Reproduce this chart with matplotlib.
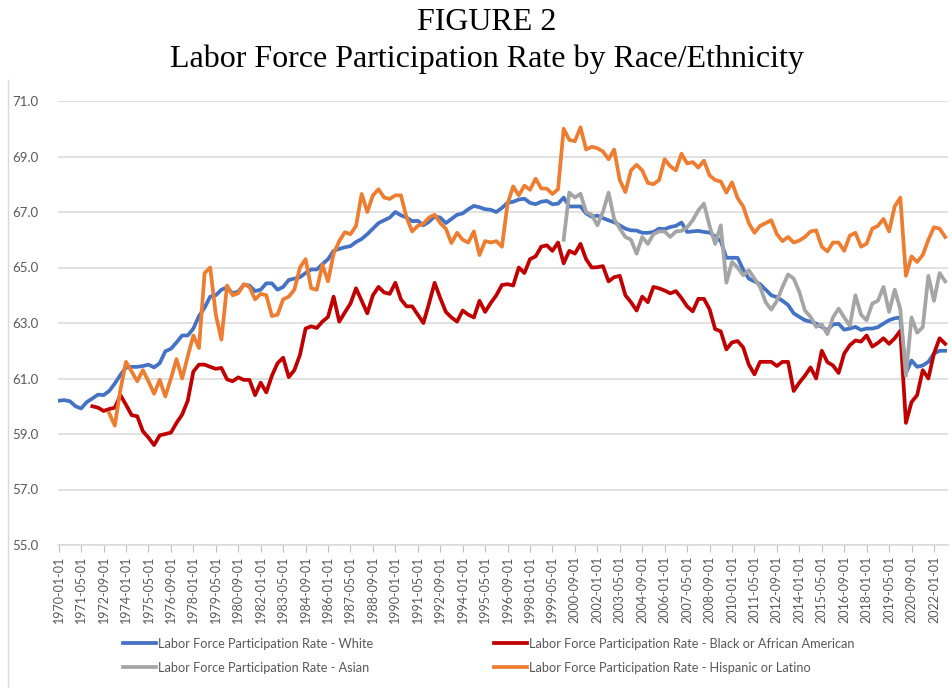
import matplotlib
matplotlib.use('Agg')
import matplotlib.pyplot as plt
from matplotlib.lines import Line2D
import numpy as np
import pandas as pd

# readings every 4 months, starting at each series' first month
step = 4

white_start = '1970-01'
white = [60.2, 60.22, 60.18, 60.0, 59.92, 60.15, 60.28, 60.42, 60.4, 60.55,
         60.82, 61.13, 61.4, 61.42, 61.42, 61.45, 61.5, 61.4, 61.55, 61.98,
         62.07, 62.3, 62.55, 62.55, 62.8, 63.25, 63.55, 63.95, 64.0, 64.2,
         64.28, 64.07, 64.13, 64.38, 64.35, 64.15, 64.2, 64.43, 64.43, 64.2,
         64.3, 64.55, 64.6, 64.65, 64.8, 64.93, 64.93, 65.12, 65.3, 65.6,
         65.67, 65.73, 65.77, 65.92, 66.03, 66.2, 66.4, 66.6, 66.7, 66.8,
         67.0, 66.88, 66.8, 66.67, 66.68, 66.52, 66.65, 66.84, 66.8, 66.6,
         66.75, 66.9, 66.95, 67.1, 67.22, 67.17, 67.1, 67.08, 67.0, 67.15,
         67.33, 67.37, 67.45, 67.48, 67.33, 67.28, 67.37, 67.4, 67.28, 67.3,
         67.52, 67.2, 67.2, 67.2, 66.95, 66.83, 66.87, 66.78, 66.7, 66.63,
         66.52, 66.4, 66.34, 66.33, 66.25, 66.25, 66.28, 66.4, 66.38, 66.46,
         66.5, 66.62, 66.28, 66.3, 66.32, 66.28, 66.26, 66.12, 65.95, 65.35,
         65.35, 65.35, 64.92, 64.6, 64.5, 64.4, 64.2, 64.0, 63.93, 63.8,
         63.65, 63.35, 63.22, 63.1, 63.05, 62.98, 62.86, 62.74, 62.95, 62.97,
         62.76, 62.8, 62.86, 62.75, 62.8, 62.8, 62.85, 62.98, 63.1, 63.17,
         63.2, 61.2, 61.65, 61.42, 61.47, 61.6, 61.9, 62.0, 62.0]

black_start = '1972-01'
black = [60.0, 59.95, 59.83, 59.9, 59.95, 60.4, 60.05, 59.68, 59.64, 59.1,
         58.87, 58.6, 58.95, 59.0, 59.05, 59.4, 59.7, 60.2, 61.25, 61.5,
         61.5, 61.42, 61.35, 61.38, 60.97, 60.9, 61.04, 60.95, 60.95, 60.4,
         60.85, 60.5, 61.1, 61.55, 61.75, 61.05, 61.3, 61.85, 62.8, 62.88,
         62.82, 63.05, 63.22, 63.95, 63.05, 63.38, 63.7, 64.25, 63.8, 63.35,
         64.0, 64.3, 64.1, 64.05, 64.45, 63.85, 63.6, 63.6, 63.3, 63.0,
         63.7, 64.45, 63.9, 63.4, 63.2, 63.05, 63.45, 63.3, 63.2, 63.8,
         63.4, 63.72, 64.0, 64.37, 64.4, 64.35, 65.0, 64.8, 65.3, 65.4,
         65.75, 65.8, 65.6, 65.9, 65.15, 65.6, 65.5, 65.85, 65.3, 65.0,
         65.01, 65.05, 64.5, 64.65, 64.7, 64.0, 63.75, 63.45, 63.95, 63.75,
         64.3, 64.25, 64.17, 64.07, 64.15, 63.9, 63.6, 63.42, 63.87, 63.87,
         63.5, 62.78, 62.7, 62.05, 62.3, 62.35, 62.12, 61.5, 61.15, 61.6,
         61.6, 61.6, 61.45, 61.6, 61.6, 60.55, 60.85, 61.1, 61.4, 61.0,
         62.0, 61.59, 61.47, 61.2, 61.9, 62.2, 62.37, 62.33, 62.55, 62.15,
         62.28, 62.45, 62.25, 62.45, 62.72, 59.4, 60.15, 60.4, 61.3, 61.0,
         61.9, 62.45, 62.25]

asian_start = '2000-01'
asian = [66.0, 67.7, 67.52, 67.66, 67.0, 66.9, 66.52, 67.0, 67.7, 66.75,
         66.4, 66.1, 66.0, 65.5, 66.1, 65.85, 66.2, 66.3, 66.3, 66.1,
         66.3, 66.32, 66.45, 66.7, 67.06, 67.3, 66.5, 65.85, 66.52, 64.45,
         65.2, 65.0, 64.72, 64.9, 64.6, 64.3, 63.75, 63.48, 63.8, 64.3,
         64.75, 64.6, 64.12, 63.45, 63.22, 62.86, 62.95, 62.6, 63.2, 63.52,
         63.2, 62.9, 64.0, 63.3, 63.1, 63.7, 63.8, 64.3, 63.4, 64.2,
         63.5, 61.1, 63.2, 62.65, 62.85, 64.7, 63.8, 64.8, 64.5]

hispanic_start = '1973-01'
hispanic = [59.75, 59.3, 60.6, 61.6, 61.25, 60.9, 61.3, 60.9, 60.45, 60.95,
            60.35, 61.0, 61.7, 61.0, 61.8, 62.55, 62.1, 64.8, 65.0, 63.3,
            62.4, 64.35, 64.0, 64.07, 64.4, 64.3, 63.85, 64.05, 64.0, 63.25,
            63.3, 63.85, 63.95, 64.2, 65.0, 65.3, 64.25, 64.2, 65.1, 64.5,
            65.5, 65.95, 66.27, 66.2, 66.5, 67.65, 67.0, 67.6, 67.82, 67.52,
            67.47, 67.6, 67.6, 66.8, 66.3, 66.5, 66.58, 66.8, 66.9, 66.6,
            66.4, 65.88, 66.25, 66.0, 65.9, 66.3, 65.45, 65.95, 65.9, 65.95,
            65.75, 67.3, 67.92, 67.6, 67.95, 67.8, 68.2, 67.85, 67.84, 67.65,
            67.82, 70.0, 69.6, 69.55, 70.05, 69.25, 69.35, 69.3, 69.18, 68.9,
            69.25, 68.15, 67.72, 68.5, 68.7, 68.5, 68.05, 68.0, 68.15, 68.9,
            68.65, 68.5, 69.1, 68.75, 68.8, 68.6, 68.85, 68.32, 68.15, 68.1,
            67.7, 68.07, 67.5, 67.2, 66.6, 66.25, 66.5, 66.6, 66.7, 66.2,
            65.95, 66.1, 65.9, 65.97, 66.1, 66.3, 66.34, 65.75, 65.58, 65.9,
            65.9, 65.6, 66.15, 66.25, 65.75, 65.86, 66.4, 66.5, 66.75, 66.3,
            67.2, 67.52, 64.7, 65.4, 65.2, 65.45, 66.0, 66.45, 66.4, 66.1]

labels = ['Labor Force Participation Rate - White',
          'Labor Force Participation Rate - Black or African American',
          'Labor Force Participation Rate - Asian',
          'Labor Force Participation Rate - Hispanic or Latino']
colors = ['#4472C4', '#C00000', '#A5A5A5', '#ED7D31']

tick_dates = pd.date_range('1970-01-01', '2022-01-01', freq='16MS')


def month_index(ym):
    d = pd.Timestamp(ym)
    return (d.year - 1970) * 12 + d.month - 1


def series_x(start, vals):
    return month_index(start) + step * np.arange(len(vals))


plt.rcParams['font.family'] = ['Lato', 'DejaVu Sans']

fig = plt.figure(figsize=(9.52, 6.88), dpi=100)
ax = fig.add_axes([58 / 952, 1 - 545 / 688, 890 / 952, 444 / 688])

series = [(white_start, white), (black_start, black),
          (asian_start, asian), (hispanic_start, hispanic)]
handles = []
for (start, vals), lab, c in zip(series, labels, colors):
    h, = ax.plot(series_x(start, vals), vals, color=c, lw=2.7,
                 solid_joinstyle='round', label=lab)
    handles.append(h)

ax.set_ylim(55, 71)
ax.set_yticks(np.arange(55, 71.1, 2))
ax.set_yticklabels([f'{v:.1f}' for v in np.arange(55, 71.1, 2)])
ax.set_xlim(-0.5, 634)
ax.set_xticks([month_index(d) for d in tick_dates])
ax.set_xticklabels([d.strftime('%Y-%m-%d') for d in tick_dates],
                   rotation=90)

ax.grid(axis='y', color='#d9d9d9', lw=1.1)
ax.set_axisbelow(True)
for s in ['top', 'right', 'left']:
    ax.spines[s].set_visible(False)
ax.spines['bottom'].set_color('#d9d9d9')
ax.spines['bottom'].set_linewidth(1.1)
ax.tick_params(axis='y', length=0, pad=14, labelsize=9.5, labelcolor='#595959')
ax.tick_params(axis='x', length=5, color='#bfbfbf', pad=3, labelsize=9,
               labelcolor='#595959')

fig.legend([handles[0], handles[2], handles[1], handles[3]],
           [labels[0], labels[2], labels[1], labels[3]],
           ncol=2, loc='upper left', bbox_to_anchor=(111 / 952, 1 - 626 / 688),
           frameon=False, fontsize=9.2, labelcolor='#595959',
           handlelength=2.6, handletextpad=0.2, columnspacing=9.4,
           labelspacing=0.95)

fig.text(487 / 952, 1 - 22 / 688, 'FIGURE 2', ha='center', va='center',
         family='Liberation Serif', fontsize=23)
fig.text(487 / 952, 1 - 59 / 688,
         'Labor Force Participation Rate by Race/Ethnicity',
         ha='center', va='center', family='Liberation Serif', fontsize=23)

fig.add_artist(Line2D([8 / 952, 8 / 952], [0, 1 - 80 / 688],
                      transform=fig.transFigure, color='#d9d9d9', lw=1))

fig.savefig('out.png', dpi=100)
